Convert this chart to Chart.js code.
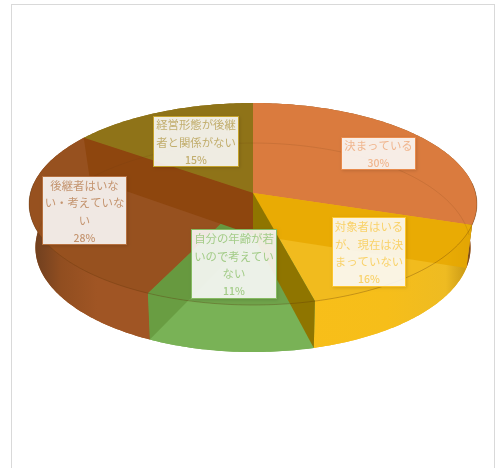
<!DOCTYPE html>
<html lang="ja">
<head>
<meta charset="utf-8">
<title>後継者の状況</title>
<style>
  html, body { margin: 0; padding: 0; background: #fff; overflow: hidden; }
  #frame { position: absolute; left: 11px; top: 4px; width: 482px; height: 480px; border: 1px solid #d9d9d9; }
  #pie { position: absolute; left: 0; top: 0; }
</style>
<script src="https://cdn.jsdelivr.net/npm/chart.js@4/dist/chart.umd.min.js"></script>
</head>
<body>
<div id="frame"></div>
<canvas id="pie" width="496" height="468"></canvas>
<script>
const categories = [
  "決まっている",
  "対象者はいるが、現在は決まっていない",
  "自分の年齢が若いので考えていない",
  "後継者はいない・考えていない",
  "経営形態が後継者と関係がない",
];
const shares = [30, 16, 11, 28, 15];

// fill colours per slice
const topColors = ["#da7b3e", "#f1bb1e", "#6fa34a", "#97511f", "#8f7318"];
const baseColors = ["#da7b3e", "#f3bd20", "#78b052", "#a0561f", "#8f7318"];
const sideColors = ["#a8602c", "#fdc015", "#79b256", "#a05524", "#8f7318"];
// wall standing on the end edge of each slice
const wallColors = [
  "rgba(232,168,0,0.85)",
  "rgba(143,117,0,1)",
  "rgba(100,150,60,0.75)",
  "rgba(142,70,14,1)",
  "rgba(143,115,24,1)",
];

// label boxes: x, y, w, h, characters per line
const boxes = [
  [341, 137, 75, 33, [6]],
  [332, 217, 74, 70, [6, 6, 6]],
  [191, 229, 86, 70, [7, 7, 2]],
  [42, 176, 85, 69, [6, 7, 1]],
  [153, 116, 86, 51, [7, 7]],
];
const boxInk = ["#f0b68f", "#f9d26a", "#a3cc88", "#c4946f", "#c2ae6e"];
const boxEdge = ["#e88a4c", "#fcc52e", "#86bb62", "#b5703f", "#c4a22c"];

// the two discs of the cylinder, in perspective
const topFace = { x: 253, y: 193, a: 222.6, b: 99.8, k: 0.109 };
const baseFace = { x: 253, y: 235, a: 216, b: 103, k: 0.12 };

function project(face, angle) {
  const u = Math.cos(angle), v = Math.sin(angle);
  const w = 1 - face.k * v;
  return [face.x + face.a * u / w, face.y + face.b * v / w];
}

function traceRim(ctx, face, from, to, moveFirst) {
  const steps = Math.max(2, Math.ceil(Math.abs(to - from) * 60));
  for (let i = 0; i <= steps; i++) {
    const p = project(face, from + (to - from) * i / steps);
    if (i === 0 && moveFirst) ctx.moveTo(p[0], p[1]);
    else ctx.lineTo(p[0], p[1]);
  }
}

function fillSector(ctx, face, arc, color) {
  ctx.beginPath();
  ctx.moveTo(face.x, face.y);
  traceRim(ctx, face, arc.startAngle, arc.endAngle, false);
  ctx.closePath();
  ctx.fillStyle = color;
  ctx.fill();
}

function sideGradient(ctx, i) {
  const g = ctx.createLinearGradient(30, 0, 477, 0);
  if (i === 3) {
    g.addColorStop(0, "#6b3d1c");
    g.addColorStop(0.03, "#7a4420");
    g.addColorStop(0.07, "#914e20");
    g.addColorStop(0.15, sideColors[3]);
    g.addColorStop(1, sideColors[3]);
  } else if (i === 1) {
    g.addColorStop(0, sideColors[1]);
    g.addColorStop(0.8, "#f6be1a");
    g.addColorStop(0.93, "#eebb22");
    g.addColorStop(0.985, "#c49414");
    g.addColorStop(1, "#8a6018");
  } else if (i === 0) {
    g.addColorStop(0, sideColors[0]);
    g.addColorStop(0.97, "#8a5a20");
    g.addColorStop(1, "#6a4018");
  } else {
    g.addColorStop(0, sideColors[i]);
    g.addColorStop(1, sideColors[i]);
  }
  return g;
}

function drawLabel(ctx, i, text, value) {
  const [x, y, w, h, breaks] = boxes[i];
  ctx.save();
  ctx.shadowColor = "rgba(0,0,0,0.14)";
  ctx.shadowBlur = 3;
  ctx.shadowOffsetX = 1;
  ctx.shadowOffsetY = 1;
  ctx.fillStyle = "rgba(255,255,255,0.88)";
  ctx.fillRect(x, y, w, h);
  ctx.restore();
  ctx.strokeStyle = boxEdge[i];
  ctx.lineWidth = 1;
  ctx.strokeRect(x + 0.5, y + 0.5, w - 1, h - 1);

  let p = 0;
  const lines = breaks.map(n => { const l = text.slice(p, p + n); p += n; return l; });
  ctx.fillStyle = boxInk[i];
  ctx.textAlign = "center";
  ctx.textBaseline = "middle";
  const cx = x + w / 2;
  const lineGap = 17.5;
  const total = (lines.length + 1) * lineGap;
  let ty = y + h / 2 - total / 2 + lineGap / 2 + 1;
  ctx.font = '11.4px "Noto Sans CJK JP"';
  lines.forEach(l => { ctx.fillText(l, cx, ty); ty += lineGap; });
  ctx.font = '500 10.5px "Noto Sans CJK JP"';
  ctx.fillText(value + "%", cx, ty);
}

const glassPie = {
  id: "glassPie",
  // the flat arcs are replaced by the cylinder below
  beforeDatasetDraw() { return false; },
  afterDatasetsDraw(chart) {
    const ctx = chart.ctx;
    const arcs = chart.getDatasetMeta(0).data;
    ctx.save();

    arcs.forEach((arc, i) => fillSector(ctx, baseFace, arc, baseColors[i]));

    // outer wall of each slice
    arcs.forEach((arc, i) => {
      ctx.beginPath();
      traceRim(ctx, topFace, arc.startAngle, arc.endAngle, true);
      traceRim(ctx, baseFace, arc.endAngle, arc.startAngle, false);
      ctx.closePath();
      ctx.fillStyle = sideGradient(ctx, i);
      ctx.fill();
    });

    arcs.forEach((arc, i) => fillSector(ctx, topFace, arc, topColors[i]));

    // inner walls show through the top
    arcs.forEach((arc, i) => {
      const a = project(topFace, arc.endAngle), b = project(baseFace, arc.endAngle);
      ctx.beginPath();
      ctx.moveTo(topFace.x, topFace.y);
      ctx.lineTo(a[0], a[1]);
      ctx.lineTo(b[0], b[1]);
      ctx.lineTo(baseFace.x, baseFace.y);
      ctx.closePath();
      ctx.fillStyle = wallColors[i];
      ctx.fill();
    });

    // rims
    ctx.lineWidth = 1;
    ctx.strokeStyle = "rgba(90,50,10,0.3)";
    ctx.beginPath();
    traceRim(ctx, topFace, -0.1, Math.PI + 0.1, true);
    ctx.stroke();
    ctx.strokeStyle = "rgba(110,60,20,0.15)";
    ctx.beginPath();
    traceRim(ctx, baseFace, -Math.PI, 0, true);
    ctx.stroke();

    arcs.forEach((arc, i) => drawLabel(ctx, i, categories[i], shares[i]));
    ctx.restore();
  },
};

new Chart(document.getElementById("pie"), {
  type: "pie",
  data: {
    labels: categories,
    datasets: [{ data: shares, backgroundColor: topColors, borderWidth: 0 }],
  },
  options: {
    responsive: false,
    animation: false,
    plugins: { legend: { display: false }, tooltip: { enabled: false } },
  },
  plugins: [glassPie],
});
</script>
</body>
</html>
